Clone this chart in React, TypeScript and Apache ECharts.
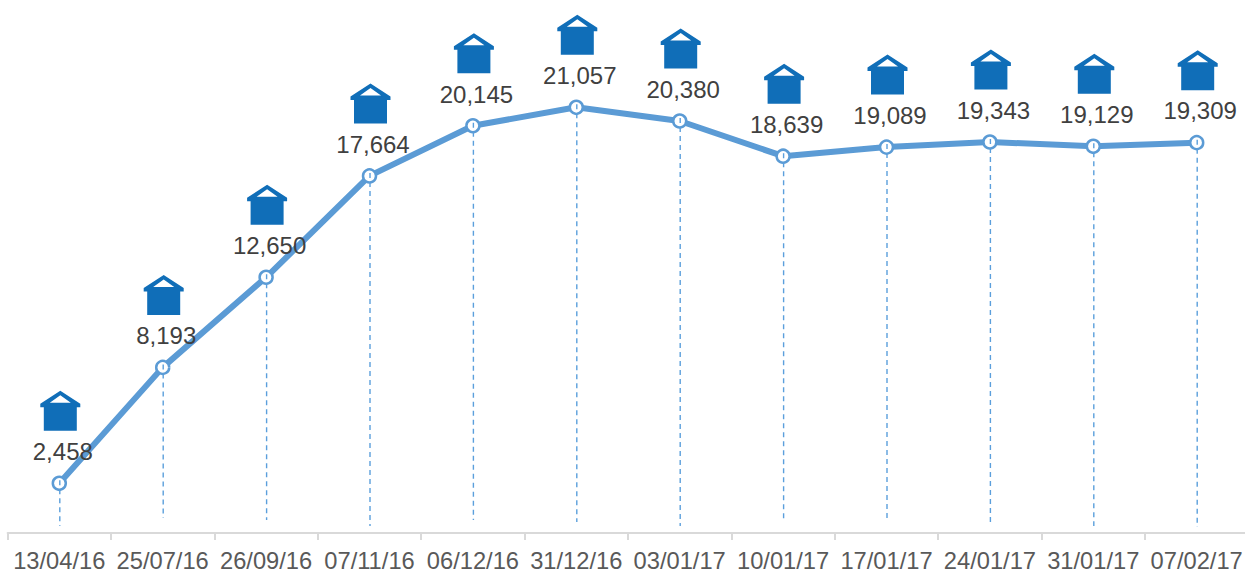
import React, { useEffect, useRef } from "react";
import * as echarts from "echarts";

const categories = ["13/04/16", "25/07/16", "26/09/16", "07/11/16", "06/12/16", "31/12/16", "03/01/17", "10/01/17", "17/01/17", "24/01/17", "31/01/17", "07/02/17"];
const values = [2458, 8193, 12650, 17664, 20145, 21057, 20380, 18639, 19089, 19343, 19129, 19309];
const dropEnds = [350, 740, 640, 350, 640, 540, 350, 540, 640, 350, 350, 300];

const HOUSE = "path://M20 0 L40 13 L40 16.5 L36.5 16.5 L36.5 40 L3.5 40 L3.5 16.5 L0 16.5 L0 13 Z M20 4.5 L9.5 12 L30.5 12 Z";

export default function App() {
  const ref = useRef<HTMLDivElement>(null);
  useEffect(() => {
    const chart = echarts.init(ref.current!, undefined, { renderer: "svg" });
    chart.setOption({
      animation: false,
      backgroundColor: "#ffffff",
      grid: { left: 7.6, right: -3.4, top: 7.4, bottom: 37, outerBoundsMode: "none" },
      xAxis: {
        type: "category",
        data: categories,
        boundaryGap: true,
        axisLine: { show: true, lineStyle: { color: "#d9d9d9", width: 2 } },
        axisTick: { show: true, alignWithLabel: false, length: 7, lineStyle: { color: "#d9d9d9", width: 2 } },
        axisLabel: { interval: 0, margin: 19.5, lineHeight: 17, color: "#595959", fontSize: 23.7, fontFamily: "Liberation Sans", hideOverlap: false },
      },
      yAxis: { type: "value", min: 0, max: 26000, show: false },
      series: [
        {
          type: "line",
          z: 2,
          data: values,
          symbol: "circle",
          symbolSize: 13,
          showAllSymbols: true,
          lineStyle: { color: "#5b9bd5", width: 6 },
          itemStyle: { color: "#ffffff", borderColor: "#5b9bd5", borderWidth: 2.5 },
          label: {
            show: true,
            position: "top",
            distance: 12,
            offset: [3.5, 0],
            color: "#404040",
            fontSize: 24,
            fontFamily: "Liberation Sans",
            formatter: (p: any) => Number(p.value).toLocaleString("en-US"),
          },
        },
        {
          type: "line",
          z: 4,
          data: values,
          symbol: HOUSE,
          symbolSize: [40, 40],
          symbolKeepAspect: true,
          symbolOffset: [1, -72.5],
          showAllSymbols: true,
          lineStyle: { width: 0, opacity: 0 },
          itemStyle: { color: "#106eb8" },
          label: { show: false },
        },
        {
          type: "custom",
          z: 3,
          silent: true,
          data: values.map((v, i) => [i, v, dropEnds[i]]),
          renderItem: (_p: any, api: any) => {
            const top = api.coord([api.value(0), api.value(1)]);
            const bottom = api.coord([api.value(0), api.value(2)]);
            const x = top[0] + 0.5;
            return {
              type: "line",
              shape: { x1: x, y1: top[1] - 3, x2: x, y2: bottom[1] },
              style: { stroke: "#5b9fdc", lineWidth: 1.4, lineDash: [5, 4], fill: null },
            };
          },
        },
      ],
    });
    return () => chart.dispose();
  }, []);
  return <div ref={ref} style={{ position: "fixed", left: 0, top: 0, width: 1245, height: 570 }} />;
}
